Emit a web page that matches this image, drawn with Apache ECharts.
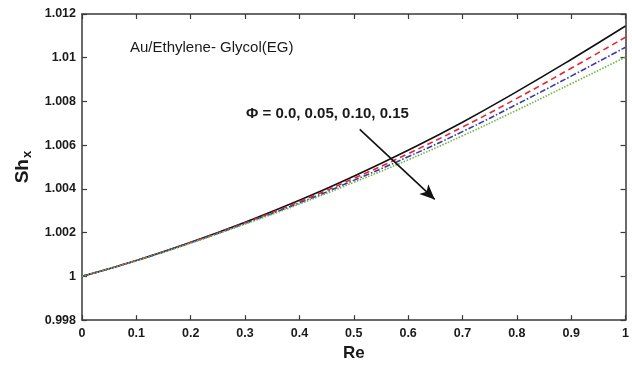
<!DOCTYPE html>
<html>
<head>
<meta charset="utf-8">
<script src="https://cdn.jsdelivr.net/npm/echarts@6/dist/echarts.min.js"></script>
<style>html,body{margin:0;padding:0;background:#fff}#c{width:632px;height:367px}</style>
</head>
<body>
<div id="c"></div>
<script>
var re = [0, 0.1, 0.2, 0.3, 0.4, 0.5, 0.6, 0.7, 0.8, 0.9, 1.0];
var phi000 = [1, 1.00073, 1.00156, 1.00248, 1.00348, 1.00458, 1.00577, 1.00705, 1.00845, 1.00992, 1.01145];
var phi005 = [1, 1.00073, 1.00155, 1.00245, 1.00342, 1.00448, 1.00561, 1.00683, 1.00814, 1.00952, 1.01094];
var phi010 = [1, 1.00072, 1.00154, 1.00242, 1.00336, 1.00439, 1.00547, 1.00662, 1.00787, 1.00916, 1.01048];
var phi015 = [1, 1.00072, 1.00152, 1.00239, 1.00331, 1.00430, 1.00533, 1.00643, 1.00760, 1.00881, 1.01003];
var xTickLabels = ['0','0.1','0.2','0.3','0.4','0.5','0.6','0.7','0.8','0.9','1'];
var yTickLabels = ['0.998','1','1.002','1.004','1.006','1.008','1.01','1.012'];
var arrowStart = [0.511, 1.00672];
var arrowEnd = [0.649, 1.00352];

function pairs(ys){ return re.map(function(x,i){ return [x, ys[i]]; }); }

var chart = echarts.init(document.getElementById('c'), null, {renderer:'canvas'});
var axisCol = '#3a3a3a';
var font = 'Liberation Sans, Arial, sans-serif';
var labelStyle = {color:'#1a1a1a', fontFamily:font, fontWeight:'bold', fontSize:12.5};

function xAx(pos, show){
  return {type:'value', position:pos, min:0, max:1, interval:0.1,
    axisLine:{show:true, onZero:false, lineStyle:{color:axisCol, width:1.5}},
    axisTick:{show:true, inside:true, length:5, lineStyle:{color:axisCol, width:1.2}},
    splitLine:{show:false},
    axisLabel:{show:show, margin:7, formatter:function(v){ var i=Math.round(v*10); return xTickLabels[i]; }},
    name: show ? 'Re' : '', nameLocation:'middle', nameGap:24,
    nameTextStyle:{color:'#1a1a1a', fontFamily:font, fontWeight:'bold', fontSize:17}
  };
}
function yAx(pos, show){
  return {type:'value', position:pos, min:0.998, max:1.012, interval:0.002,
    axisLine:{show:true, onZero:false, lineStyle:{color:axisCol, width:1.5}},
    axisTick:{show:true, inside:true, length:5, lineStyle:{color:axisCol, width:1.2}},
    splitLine:{show:false},
    axisLabel:{show:show, margin:6, formatter:function(v){ var i=Math.round((v-0.998)/0.002); return yTickLabels[i]; }},
    name: show ? '{a|Sh}{b|x}' : '', nameLocation:'middle', nameGap:45, nameRotate:90,
    nameTextStyle:{rich:{
      a:{color:'#1a1a1a', fontFamily:font, fontWeight:'bold', fontSize:19},
      b:{color:'#1a1a1a', fontFamily:font, fontWeight:'bold', fontSize:13, padding:[9,0,0,1]}
    }}
  };
}
var xa0 = xAx('bottom', true); xa0.axisLabel = Object.assign(xa0.axisLabel, labelStyle);
var ya0 = yAx('left', true); ya0.axisLabel = Object.assign(ya0.axisLabel, labelStyle);

chart.setOption({
  animation:false,
  grid:{left:82, right:6, top:14, bottom:45, containLabel:false},
  xAxis:[xa0, xAx('top', false)],
  yAxis:[ya0, yAx('right', false)],
  series:[
    {type:'line', name:'0.0', data:pairs(phi000), smooth:true, showSymbol:false,
     lineStyle:{color:'#111111', width:1.6, type:'solid'},
     markLine:{silent:true, symbol:['none','arrow'], symbolSize:[10,15],
       lineStyle:{color:'#111111', width:1.6, type:'solid'}, label:{show:false},
       data:[[{coord:arrowStart}, {coord:arrowEnd}]]}},
    {type:'line', name:'0.05', data:pairs(phi005), smooth:true, showSymbol:false,
     lineStyle:{color:'#e8262a', width:1.6, type:[6,4]}},
    {type:'line', name:'0.10', data:pairs(phi010), smooth:true, showSymbol:false,
     lineStyle:{color:'#3b3ba6', width:1.6, type:[6,2,1.5,2]}},
    {type:'line', name:'0.15', data:pairs(phi015), smooth:true, showSymbol:false,
     lineStyle:{color:'#6cb43c', width:1.6, type:[1.5,1.5]}}
  ],
  graphic:[
    {type:'text', left:130, top:40, style:{text:'Au/Ethylene- Glycol(EG)', fill:'#1a1a1a', font:'15px '+font}},
    {type:'text', left:246, top:106, style:{text:'Φ = 0.0, 0.05, 0.10, 0.15', fill:'#1a1a1a', font:'bold 15px '+font}}
  ]
});
</script>
</body>
</html>
